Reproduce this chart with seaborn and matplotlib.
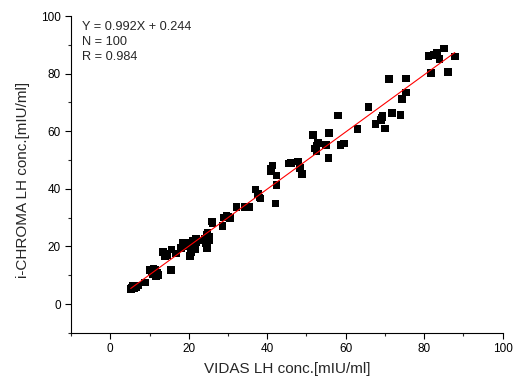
import numpy as np
import pandas as pd
import matplotlib
matplotlib.use("Agg")
import matplotlib.pyplot as plt
from matplotlib.ticker import MultipleLocator
import seaborn as sns

# VIDAS vs i-CHROMA LH values
vidas = [5.2, 5.8, 6.7, 6.0, 7.0, 8.8, 10.1, 11.4, 11.6, 10.8,
         12.0, 11.0, 13.5, 13.9, 15.6, 16.7, 15.4, 14.0, 18.6, 19.9,
         21.8, 21.6, 20.3, 20.5, 19.0, 21.0, 24.4, 24.7, 24.8, 25.1,
         24.6, 25.9, 23.5, 28.6, 29.6, 30.5, 32.2, 34.3, 35.4, 37.0,
         37.7, 38.3, 42.1, 40.9, 41.3, 42.4, 42.4, 45.6, 46.0, 47.9,
         48.3, 48.8, 51.7, 52.6, 52.6, 55.0, 55.7, 55.6, 58.1, 58.7,
         59.6, 63.0, 65.8, 67.6, 69.3, 69.4, 70.0, 71.0, 71.8, 74.0,
         74.4, 75.4, 75.4, 81.1, 81.8, 83.2, 83.9, 85.1, 86.0, 87.8,
         6.3, 5.5, 10.5, 12.2, 14.5, 18.0, 20.0, 21.2, 22.0, 24.2,
         25.3, 26.0, 29.0, 30.0, 38.0, 52.2, 53.0, 41.0, 82.5, 69.0]
ichroma = [5.2, 6.3, 5.8, 5.5, 6.5, 7.5, 11.9, 11.9, 9.6, 10.5,
           11.0, 12.3, 18.1, 16.5, 19.0, 17.6, 11.9, 17.5, 21.3, 21.3,
           22.5, 19.0, 16.7, 18.0, 20.5, 22.0, 21.3, 24.0, 24.8, 23.4,
           19.5, 28.7, 22.0, 27.1, 30.6, 29.8, 33.7, 33.7, 33.8, 39.8,
           38.3, 36.6, 34.9, 46.1, 48.1, 44.6, 41.3, 48.8, 48.9, 49.5,
           47.3, 45.2, 58.7, 55.0, 53.0, 55.3, 59.3, 50.8, 65.5, 55.3,
           55.7, 60.7, 68.5, 62.5, 64.8, 65.2, 61.0, 78.1, 66.3, 65.7,
           71.2, 73.5, 78.3, 86.2, 80.2, 87.3, 85.0, 88.8, 80.5, 85.9,
           6.0, 5.8, 11.5, 10.0, 17.0, 19.5, 20.0, 21.0, 21.5, 22.5,
           22.0, 28.0, 30.0, 30.2, 37.0, 54.0, 56.0, 47.0, 86.5, 64.0]

slope = 0.992
intercept = 0.244
n_points = 100
r_value = 0.984

df = pd.DataFrame({"vidas": vidas, "ichroma": ichroma})
fit = pd.DataFrame({"x": [min(vidas), max(vidas)]})
fit["y"] = slope * fit["x"] + intercept

sns.set_style("ticks")
plt.rcParams["font.family"] = ["Liberation Sans", "DejaVu Sans"]

fig = plt.figure(figsize=(5.15, 3.83), dpi=100)
ax = fig.add_axes([0.138, 0.131, 0.838, 0.827])

sns.scatterplot(data=df, x="vidas", y="ichroma", marker="s", s=30,
                color="black", edgecolor="none", ax=ax, zorder=2)
sns.lineplot(data=fit, x="x", y="y", color="red", linewidth=0.8, ax=ax, zorder=3)

ax.set_xlim(-10, 100)
ax.set_ylim(-10, 100)
ax.xaxis.set_major_locator(MultipleLocator(20))
ax.xaxis.set_minor_locator(MultipleLocator(10))
ax.yaxis.set_major_locator(MultipleLocator(20))
ax.yaxis.set_minor_locator(MultipleLocator(10))
ax.tick_params(which="major", direction="out", length=4, width=0.8, labelsize=8.5, colors="black")
ax.tick_params(which="minor", direction="out", length=2.5, width=0.8)
for s in ["left", "bottom"]:
    ax.spines[s].set_linewidth(0.8)
    ax.spines[s].set_color("black")
sns.despine(ax=ax)

ax.set_xlabel("VIDAS LH conc.[mIU/ml]", fontsize=11, labelpad=5)
ax.set_ylabel("i-CHROMA LH conc.[mIU/ml]", fontsize=11)
ax.yaxis.set_label_coords(-0.095, 0.483)

ax.text(0.025, 0.985,
        f"Y = {slope}X + {intercept}\nN = {n_points}\nR = {r_value}",
        transform=ax.transAxes, ha="left", va="top", fontsize=9.2, linespacing=1.35)

fig.savefig("out.png", dpi=100)
